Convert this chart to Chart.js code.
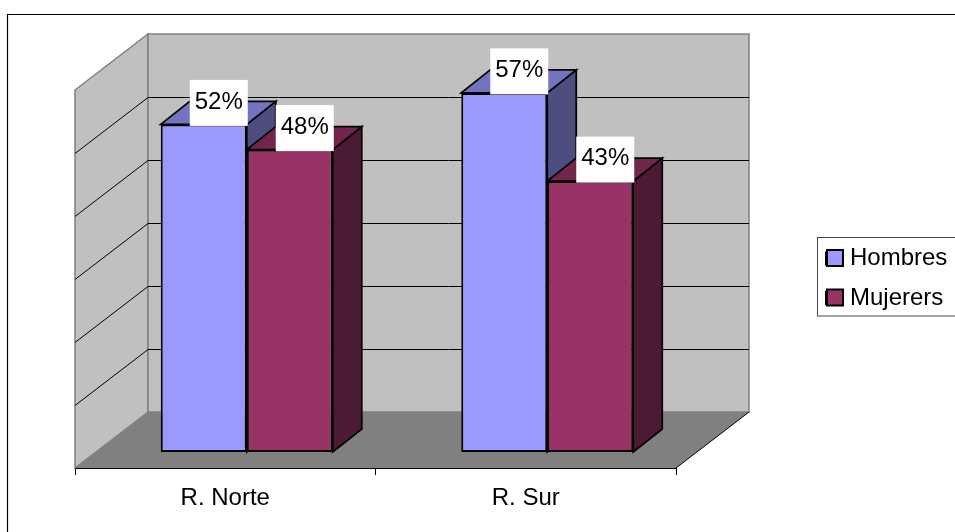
<!DOCTYPE html>
<html><head><meta charset="utf-8">
<style>html,body{margin:0;padding:0;background:#fff}canvas{display:block}</style>
<script src="https://cdn.jsdelivr.net/npm/chart.js@4/dist/chart.umd.js"></script>
</head><body>
<div style="width:955px;height:532px"><canvas id="c" width="955" height="532"></canvas></div>
<script>
const categories = ["R. Norte", "R. Sur"];
const hombres = [52, 57];
const mujeres = [48, 43];
const seriesNames = ["Hombres", "Mujerers"];
const yTicks = [0, 10, 20, 30, 40, 50, 60];

const FONT = '"Liberation Sans", Arial, sans-serif';
const DEPTH = {x: 73, y: -56};        // wall depth
const BAR_SHIFT = {x: 21.5, y: -16};  // bars stand inside the floor
const BAR_DEPTH = {x: 29, y: -23};    // bar depth

function poly(ctx, pts, fill, stroke, lw) {
  ctx.beginPath();
  pts.forEach((p, i) => i ? ctx.lineTo(p[0], p[1]) : ctx.moveTo(p[0], p[1]));
  ctx.closePath();
  if (fill) { ctx.fillStyle = fill; ctx.fill(); }
  if (stroke) { ctx.strokeStyle = stroke; ctx.lineWidth = lw; ctx.lineJoin = 'miter'; ctx.stroke(); }
}
const SHADES = {
  '#9999FF': {top: '#7373BF', side: '#4D4D80'},
  '#993366': {top: '#73264D', side: '#4D1A33'}
};

const threeD = {
  id: 'threeD',
  beforeDraw(chart) {
    const ctx = chart.ctx;
    ctx.save();
    ctx.strokeStyle = '#000'; ctx.lineWidth = 1.2;
    ctx.beginPath();
    ctx.moveTo(7.5, 532); ctx.lineTo(7.5, 14.5); ctx.lineTo(955, 14.5);
    ctx.stroke();
    ctx.restore();
  },
  afterLayout(chart) {
    const lg = chart.legend;
    lg.left = 810.5; lg.right = 955; lg.top = 231; lg.bottom = 532;
    lg.width = 144.5; lg.height = 301;
  },
  beforeDatasetsDraw(chart) {
    const ctx = chart.ctx, a = chart.chartArea, ys = chart.scales.y;
    const dx = DEPTH.x, dy = DEPTH.y;
    ctx.save();
    // side wall, back wall, floor
    poly(ctx, [[a.left, a.bottom], [a.left, a.top], [a.left + dx, a.top + dy], [a.left + dx, a.bottom + dy]], '#C0C0C0', '#808080', 1.5);
    poly(ctx, [[a.left + dx, a.top + dy], [a.right + dx, a.top + dy], [a.right + dx, a.bottom + dy], [a.left + dx, a.bottom + dy]], '#C0C0C0', '#808080', 1.5);
    poly(ctx, [[a.left, a.bottom], [a.left + dx, a.bottom + dy], [a.right + dx, a.bottom + dy], [a.right, a.bottom]], '#808080', null, 0);
    ctx.strokeStyle = '#000'; ctx.lineWidth = 1;
    ctx.beginPath(); ctx.moveTo(a.right, a.bottom); ctx.lineTo(a.right + dx, a.bottom + dy); ctx.stroke();
    // gridlines on both walls
    yTicks.slice(1, -1).forEach(v => {
      const y = Math.round(ys.getPixelForValue(v)) + 0.5;
      ctx.beginPath();
      ctx.moveTo(a.left, y); ctx.lineTo(a.left + dx, y + dy); ctx.lineTo(a.right + dx, y + dy);
      ctx.strokeStyle = '#000'; ctx.lineWidth = 1; ctx.stroke();
    });
    ctx.restore();
    ctx.save();
    ctx.translate(BAR_SHIFT.x, BAR_SHIFT.y);
    // depth faces of the bars: first series first, so the second overlaps it
    const bx = BAR_DEPTH.x, by = BAR_DEPTH.y;
    chart.data.datasets.forEach((ds, di) => {
      const s = SHADES[ds.backgroundColor];
      chart.getDatasetMeta(di).data.forEach(bar => {
        const l = bar.x - bar.width / 2, r = bar.x + bar.width / 2, t = bar.y, b = bar.base;
        poly(ctx, [[r, b], [r, t], [r + bx, t + by], [r + bx, b + by]], s.side, '#000', 1.75);
        poly(ctx, [[l, t], [r, t], [r + bx, t + by], [l + bx, t + by]], s.top, '#000', 1.75);
      });
    });
  },
  afterDatasetsDraw(chart) {
    const ctx = chart.ctx;
    ctx.restore();
    ctx.save();
    ctx.font = '24px ' + FONT;
    ctx.textAlign = 'center'; ctx.textBaseline = 'middle';
    chart.data.datasets.forEach((ds, di) => {
      chart.getDatasetMeta(di).data.forEach((bar, i) => {
        const cx = bar.x + BAR_SHIFT.x + 15;
        const cy = bar.y + BAR_SHIFT.y - 21.5;
        ctx.fillStyle = '#fff';
        ctx.fillRect(cx - 29, cy - 23, 58, 46);
        ctx.fillStyle = '#000';
        ctx.fillText(ds.data[i] + '%', cx, cy - 1);
      });
    });
    ctx.restore();
  },
  afterDraw(chart) {
    const ctx = chart.ctx, lg = chart.legend;
    ctx.save();
    ctx.strokeStyle = '#444'; ctx.lineWidth = 1;
    ctx.strokeRect(817.5, 237.5, 140, 78.5);
    // legend swatches are a little wider than the gap the library leaves
    lg.legendItems.forEach((item, i) => {
      ctx.fillStyle = item.fillStyle;
      ctx.strokeStyle = '#000'; ctx.lineWidth = 2;
      const y = 250 + i * 39.5;
      ctx.fillRect(827, y, 16, 16);
      ctx.strokeRect(827, y, 16, 16);
    });
    ctx.restore();
  }
};

new Chart(document.getElementById('c'), {
  type: 'bar',
  data: {
    labels: categories,
    datasets: [
      {label: seriesNames[0], data: hombres, backgroundColor: '#9999FF', borderColor: '#000', borderWidth: 2, borderSkipped: false, clip: false},
      {label: seriesNames[1], data: mujeres, backgroundColor: '#993366', borderColor: '#000', borderWidth: 2, borderSkipped: false, clip: false}
    ]
  },
  options: {
    responsive: false,
    animation: false,
    layout: {padding: {left: 75, top: 90, right: 279, bottom: 0}},
    categoryPercentage: 0.5724,
    barPercentage: 1,
    plugins: {
      tooltip: {enabled: false},
      title: {display: false},
      legend: {
        position: 'chartArea',
        align: 'start',
        labels: {
          boxWidth: 12, boxHeight: 12, padding: 15.5,
          color: '#000',
          font: {family: FONT, size: 24}
        }
      }
    },
    scales: {
      x: {
        offset: true,
        afterFit(s) { s.height = 64; },
        grid: {offset: true, drawOnChartArea: false, drawTicks: true, tickLength: 7, tickColor: '#000', tickWidth: 1},
        border: {color: '#000', width: 1},
        ticks: {color: '#000', padding: 9, maxRotation: 0, font: {family: FONT, size: 24}}
      },
      y: {
        display: false,
        min: yTicks[0], max: yTicks[yTicks.length - 1],
        afterBuildTicks(s) { s.ticks = yTicks.map(v => ({value: v})); }
      }
    }
  },
  plugins: [threeD]
});
</script>
</body></html>
